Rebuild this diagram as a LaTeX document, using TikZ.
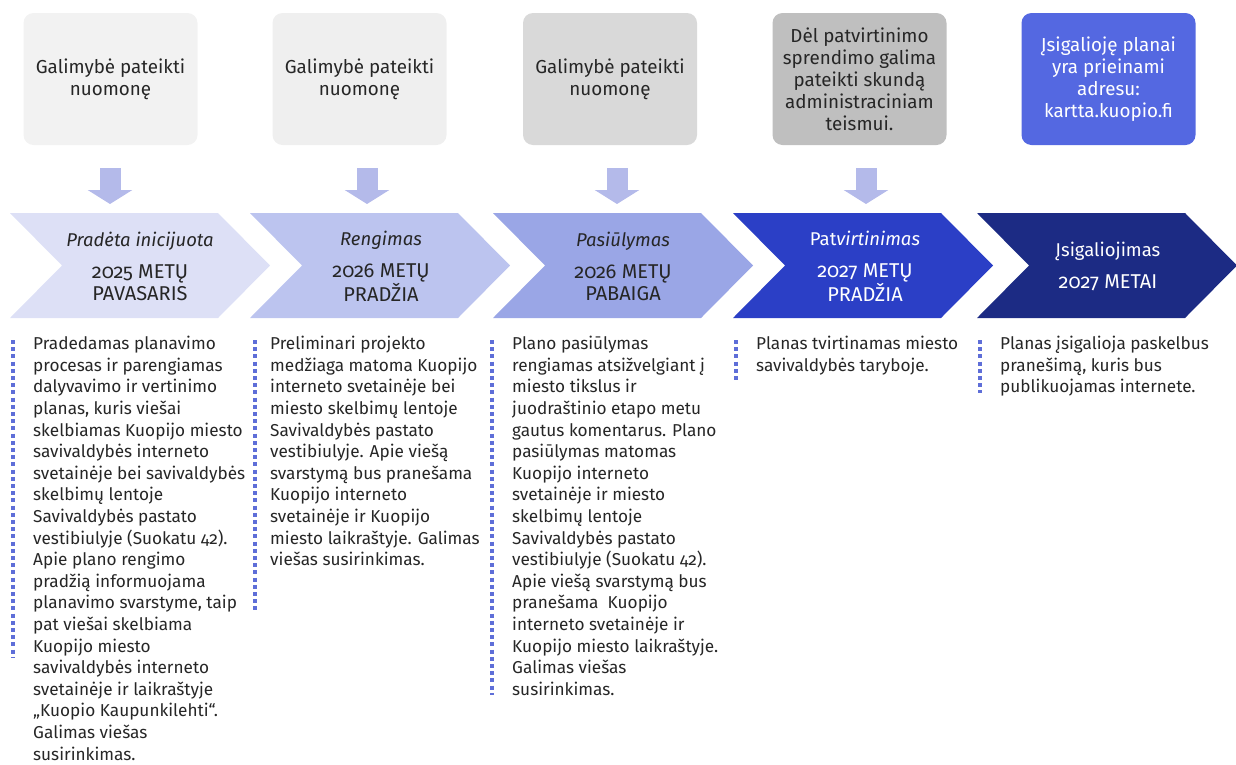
\documentclass[tikz,border=0pt]{standalone}
\usepackage{fontspec}
\setmainfont[Numbers=OldStyle]{Fira Sans}
\usetikzlibrary{arrows.meta}
\definecolor{txt}{HTML}{262626}
\definecolor{bxA}{HTML}{F2F2F2}
\definecolor{bxB}{HTML}{EFEFEF}
\definecolor{bxC}{HTML}{D9D9D9}
\definecolor{bxD}{HTML}{BFBFBF}
\definecolor{bxE}{HTML}{5468E1}
\definecolor{chA}{HTML}{DDE0F6}
\definecolor{chB}{HTML}{BCC4EF}
\definecolor{chC}{HTML}{9AA6E6}
\definecolor{chD}{HTML}{2B3FC6}
\definecolor{chE}{HTML}{1C2B84}
\definecolor{arr}{HTML}{B4BAEA}
\definecolor{dotc}{HTML}{5E6ED8}
\newcommand{\ttl}{\fontsize{18.5}{22}\selectfont}
\tikzset{
  topbox/.style={rounded corners=10pt, minimum width=174pt, minimum height=132pt, inner sep=0pt,
     align=center, text=txt, font=\fontsize{18.8}{22}\selectfont},
  chevtext/.style={align=center, inner sep=0pt, text=txt, font=\fontsize{20}{22}\selectfont},
  bodytext/.style={anchor=north west, align=left, inner sep=0pt, text=txt, font=\fontsize{17.2}{21.6}\selectfont},
  blockarrow/.style={draw=arr, line width=21pt, -{Triangle[width=44pt,length=14pt]}},
  dotline/.style={draw=dotc, line width=4pt, dash pattern=on 4pt off 3.2pt},
}
\begin{document}
\begin{tikzpicture}[x=1pt,y=-1pt]
\useasboundingbox (0,0) rectangle (1236,764);
% top boxes
\node[topbox, fill=bxA] (b1) at (110.5,79) {Galimybė pateikti\\nuomonę};
\node[topbox, fill=bxB] (b2) at (359.5,79) {Galimybė pateikti\\nuomonę};
\node[topbox, fill=bxC] (b3) at (610,79) {Galimybė pateikti\\nuomonę};
\node[topbox, fill=bxD] (b4) at (859.5,79) {Dėl patvirtinimo\\sprendimo galima\\pateikti skundą\\administraciniam\\teismui.};
\node[topbox, fill=bxE, text=white] (b5) at (1108.5,79) {Įsigalioję planai\\yra prieinami\\adresu:\\kartta.kuopio.fi};
% chevrons
\foreach \L/\c in {10/chA,250/chB,493/chC,733/chD,977/chE}{
  \fill[\c] (\L,213) -- (\L+208,213) -- (\L+260,265.5) -- (\L+208,318) -- (\L,318) -- (\L+52,265.5) -- cycle;
}
\node[chevtext] (c1) at (140,266) {{\ttl\textit{Pradėta inicijuota}}\\[10pt]2025 METŲ\\PAVASARIS};
\node[chevtext] (c2) at (381,266) {{\ttl\textit{Rengimas}}\\[10pt]2026 METŲ\\PRADŽIA};
\node[chevtext] (c3) at (623,266) {{\ttl\textit{Pasiūlymas}}\\[10pt]2026 METŲ\\PABAIGA};
\node[chevtext, text=white] (c4) at (865,266) {{\ttl Pat\textit{virtinimas}}\\[10pt]2027 METŲ\\PRADŽIA};
\node[chevtext, text=white] (c5) at (1108,266) {{\ttl Įsigaliojimas}\\[10pt]2027 METAI};
% down arrows
\coordinate (a1s) at (110,168); \coordinate (a1e) at (110,204);
\coordinate (a2s) at (367,168); \coordinate (a2e) at (367,204);
\coordinate (a3s) at (617,168); \coordinate (a3e) at (617,204);
\coordinate (a4s) at (866,168); \coordinate (a4e) at (866,204);
\draw[blockarrow] (a1s) -- (a1e);
\draw[blockarrow] (a2s) -- (a2e);
\draw[blockarrow] (a3s) -- (a3e);
\draw[blockarrow] (a4s) -- (a4e);
% dotted lines
\coordinate (d1s) at (13,340); \coordinate (d1e) at (13,658);
\coordinate (d2s) at (255,340); \coordinate (d2e) at (255,612);
\coordinate (d3s) at (492,340); \coordinate (d3e) at (492,695);
\coordinate (d4s) at (736,340); \coordinate (d4e) at (736,380);
\coordinate (d5s) at (980,340); \coordinate (d5e) at (980,393);
\draw[dotline] (d1s) -- (d1e);
\draw[dotline] (d2s) -- (d2e);
\draw[dotline] (d3s) -- (d3e);
\draw[dotline] (d4s) -- (d4e);
\draw[dotline] (d5s) -- (d5e);
% body texts
\node[bodytext] (t1) at (33,336) {Pradedamas planavimo\\procesas ir parengiamas\\dalyvavimo ir vertinimo\\planas, kuris viešai\\skelbiamas Kuopijo miesto\\savivaldybės interneto\\svetainėje bei savivaldybės\\skelbimų lentoje\\Savivaldybės pastato\\vestibiulyje (Suokatu 42).\\Apie plano rengimo\\pradžią informuojama\\planavimo svarstyme, taip\\pat viešai skelbiama\\Kuopijo miesto\\savivaldybės interneto\\svetainėje ir laikraštyje\\„Kuopio Kaupunkilehti“.\\Galimas viešas\\susirinkimas.};
\node[bodytext] (t2) at (270,336) {Preliminari projekto\\medžiaga matoma Kuopijo\\interneto svetainėje bei\\miesto skelbimų lentoje\\Savivaldybės pastato\\vestibiulyje. Apie viešą\\svarstymą bus pranešama\\Kuopijo interneto\\svetainėje ir Kuopijo\\miesto laikraštyje. Galimas\\viešas susirinkimas.};
\node[bodytext] (t3) at (512,336) {Plano pasiūlymas\\rengiamas atsižvelgiant į\\miesto tikslus ir\\juodraštinio etapo metu\\gautus komentarus. Plano\\pasiūlymas matomas\\Kuopijo interneto\\svetainėje ir miesto\\skelbimų lentoje\\Savivaldybės pastato\\vestibiulyje (Suokatu 42).\\Apie viešą svarstymą bus\\pranešama\ \ Kuopijo\\interneto svetainėje ir\\Kuopijo miesto laikraštyje.\\Galimas viešas\\susirinkimas.};
\node[bodytext] (t4) at (756,336) {Planas tvirtinamas miesto\\savivaldybės taryboje.};
\node[bodytext] (t5) at (1000,336) {Planas įsigalioja paskelbus\\pranešimą, kuris bus\\publikuojamas internete.};
\end{tikzpicture}
\end{document}
